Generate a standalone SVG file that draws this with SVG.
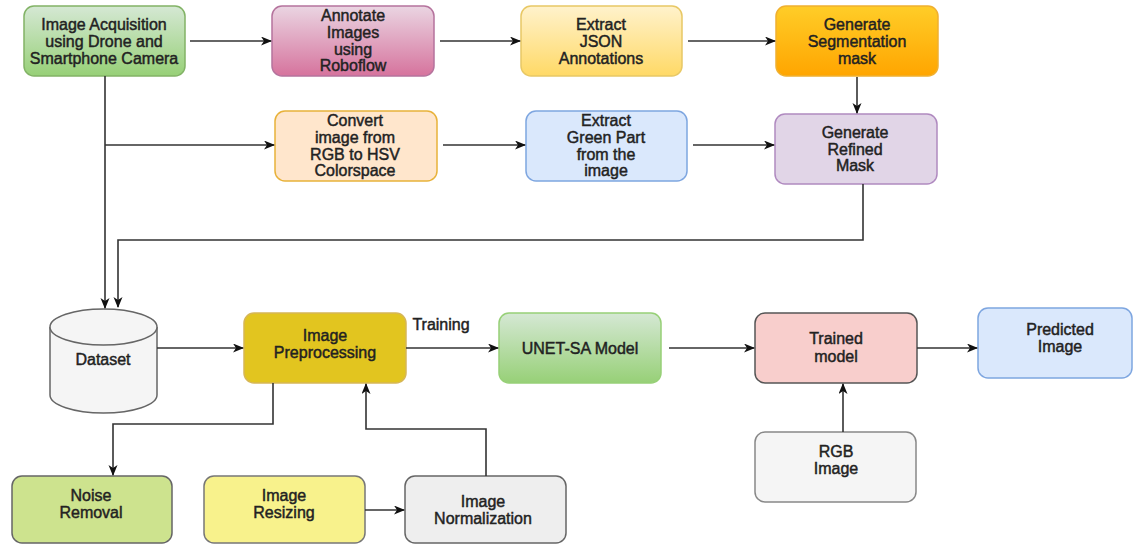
<svg xmlns="http://www.w3.org/2000/svg" width="1133" height="544" viewBox="0 0 1133 544">
  <style>
    text { font-family: "Liberation Sans", Arial, sans-serif; font-size: 16px; fill: #222; stroke: #222; stroke-width: 0.45; text-anchor: middle; }
    .box { stroke-width: 1.5; }
    .edge { fill: none; stroke: #333; stroke-width: 1.6; }
  </style>
  <defs>
    <linearGradient id="gGreen" x1="0" y1="0" x2="0" y2="1"><stop offset="0" stop-color="#d5e8d4"/><stop offset="1" stop-color="#97d077"/></linearGradient>
    <linearGradient id="gPink" x1="0" y1="0" x2="0" y2="1"><stop offset="0" stop-color="#ead5e2"/><stop offset="1" stop-color="#d6739d"/></linearGradient>
    <linearGradient id="gYellow" x1="0" y1="0" x2="0" y2="1"><stop offset="0" stop-color="#fff2cc"/><stop offset="1" stop-color="#ffd966"/></linearGradient>
    <linearGradient id="gOrange" x1="0" y1="0" x2="0" y2="1"><stop offset="0" stop-color="#ffcd28"/><stop offset="1" stop-color="#ffa500"/></linearGradient>
    <marker id="arrow" markerUnits="userSpaceOnUse" markerWidth="12" markerHeight="10" refX="10" refY="4.5" orient="auto">
      <path d="M0,0 L11,4.5 L0,9 L3,4.5 z" fill="#111"/>
    </marker>
  </defs>

  <!-- top row -->
  <g id="acquisition">
    <rect class="box" x="24" y="6" width="161" height="70" rx="10" fill="url(#gGreen)" stroke="#82b366"/>
    <text x="104" y="30">Image Acquisition</text>
    <text x="104" y="47">using Drone and</text>
    <text x="104" y="64">Smartphone Camera</text>
  </g>
  <g id="annotate">
    <rect class="box" x="272" y="6" width="162" height="70" rx="10" fill="url(#gPink)" stroke="#b5739d"/>
    <text x="353" y="21">Annotate</text>
    <text x="353" y="38">Images</text>
    <text x="353" y="55">using</text>
    <text x="353" y="71">Roboflow</text>
  </g>
  <g id="extract-json">
    <rect class="box" x="521" y="6" width="161" height="70" rx="10" fill="url(#gYellow)" stroke="#e8c865"/>
    <text x="601" y="30">Extract</text>
    <text x="601" y="47">JSON</text>
    <text x="601" y="64">Annotations</text>
  </g>
  <g id="segmentation-mask">
    <rect class="box" x="776" y="6" width="162" height="70" rx="10" fill="url(#gOrange)" stroke="#f0b030"/>
    <text x="857" y="30">Generate</text>
    <text x="857" y="47">Segmentation</text>
    <text x="857" y="64">mask</text>
  </g>

  <!-- second row -->
  <g id="convert-hsv">
    <rect class="box" x="275" y="111" width="162" height="70" rx="10" fill="#ffe6cc" stroke="#e8b23a"/>
    <text x="355" y="126">Convert</text>
    <text x="355" y="143">image from</text>
    <text x="355" y="160">RGB to HSV</text>
    <text x="355" y="176">Colorspace</text>
  </g>
  <g id="extract-green">
    <rect class="box" x="526" y="111" width="161" height="70" rx="10" fill="#dae8fc" stroke="#7ea6e0"/>
    <text x="606" y="126">Extract</text>
    <text x="606" y="143">Green Part</text>
    <text x="606" y="160">from the</text>
    <text x="606" y="176">image</text>
  </g>
  <g id="refined-mask">
    <rect class="box" x="775" y="114" width="162" height="70" rx="10" fill="#e1d5e7" stroke="#b08ac0"/>
    <text x="855" y="138">Generate</text>
    <text x="855" y="155">Refined</text>
    <text x="855" y="171">Mask</text>
  </g>

  <!-- middle row -->
  <g id="dataset">
    <path d="M50,327 L50,395 A53.5,18 0 0 0 157,395 L157,327" fill="#f5f5f5" stroke="#666" stroke-width="1.5"/>
    <ellipse cx="103.5" cy="327" rx="53.5" ry="18" fill="#f5f5f5" stroke="#666" stroke-width="1.5"/>
    <text x="103" y="365">Dataset</text>
  </g>
  <g id="preprocessing">
    <rect class="box" x="244" y="313" width="162" height="70" rx="10" fill="#e2c51f" stroke="#d6b656"/>
    <text x="325" y="341">Image</text>
    <text x="325" y="358">Preprocessing</text>
  </g>
  <g id="unet-sa">
    <rect class="box" x="499" y="313" width="162" height="70" rx="10" fill="url(#gGreen)" stroke="#97d077"/>
    <text x="580" y="354">UNET-SA Model</text>
  </g>
  <g id="trained-model">
    <rect class="box" x="755" y="313" width="162" height="70" rx="10" fill="#f8cecc" stroke="#555"/>
    <text x="836" y="344">Trained</text>
    <text x="836" y="362">model</text>
  </g>
  <g id="predicted-image">
    <rect class="box" x="978" y="308" width="154" height="70" rx="10" fill="#dae8fc" stroke="#7ea6e0"/>
    <text x="1060" y="335">Predicted</text>
    <text x="1060" y="352">Image</text>
  </g>
  <g id="rgb-image">
    <rect class="box" x="755" y="432" width="161" height="70" rx="10" fill="#f5f5f5" stroke="#888"/>
    <text x="836" y="457">RGB</text>
    <text x="836" y="474">Image</text>
  </g>

  <!-- bottom row -->
  <g id="noise-removal">
    <rect class="box" x="12" y="476" width="160" height="67" rx="10" fill="#cde38e" stroke="#666"/>
    <text x="91" y="501">Noise</text>
    <text x="91" y="518">Removal</text>
  </g>
  <g id="image-resizing">
    <rect class="box" x="204" y="476" width="161" height="67" rx="10" fill="#f8f28c" stroke="#777"/>
    <text x="284" y="501">Image</text>
    <text x="284" y="518">Resizing</text>
  </g>
  <g id="image-normalization">
    <rect class="box" x="405" y="476" width="161" height="67" rx="10" fill="#eeeeee" stroke="#666"/>
    <text x="483" y="507">Image</text>
    <text x="483" y="524">Normalization</text>
  </g>

  <g id="connectors">
    <path class="edge" d="M190,41 L271,41" marker-end="url(#arrow)"/>
    <path class="edge" d="M440,41 L520,41" marker-end="url(#arrow)"/>
    <path class="edge" d="M688,41 L775,41" marker-end="url(#arrow)"/>
    <path class="edge" d="M857,77 L857,113" marker-end="url(#arrow)"/>
    <path class="edge" d="M105,76 L105,308" marker-end="url(#arrow)"/>
    <path class="edge" d="M105,145 L274,145" marker-end="url(#arrow)"/>
    <path class="edge" d="M443,145 L525,145" marker-end="url(#arrow)"/>
    <path class="edge" d="M693,145 L774,145" marker-end="url(#arrow)"/>
    <path class="edge" d="M863,184 L863,240 L118,240 L118,307" marker-end="url(#arrow)"/>
    <path class="edge" d="M157,348 L243,348" marker-end="url(#arrow)"/>
    <path class="edge" d="M406,348 L498,348" marker-end="url(#arrow)"/>
    <text x="441" y="330">Training</text>
    <path class="edge" d="M669,348 L754,348" marker-end="url(#arrow)"/>
    <path class="edge" d="M917,348 L977,348" marker-end="url(#arrow)"/>
    <path class="edge" d="M843,432 L843,384" marker-end="url(#arrow)"/>
    <path class="edge" d="M273,383 L273,424 L113,424 L113,475" marker-end="url(#arrow)"/>
    <path class="edge" d="M365,510 L404,510" marker-end="url(#arrow)"/>
    <path class="edge" d="M486,476 L486,429 L366,429 L366,384" marker-end="url(#arrow)"/>
  </g>
</svg>
